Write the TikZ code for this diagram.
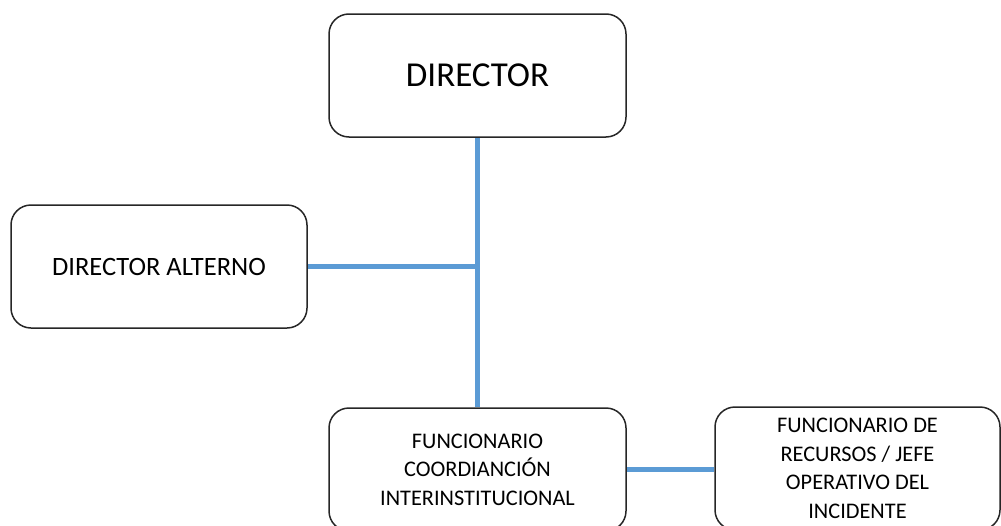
\documentclass[tikz,border=0pt]{standalone}
\usepackage{fontspec}
\setmainfont{Carlito}
\definecolor{linkblue}{RGB}{91,155,213}
\tikzset{
  box/.style={draw=black!85, line width=1.5pt, rounded corners=20pt, fill=white, align=center, inner sep=0pt},
  link/.style={draw=linkblue, line width=5pt},
}
\begin{document}
\begin{tikzpicture}[x=1pt, y=-1pt]
\useasboundingbox (0,0) rectangle (1001,525);
\clip (0,0) rectangle (1001,525);
\node[box, minimum width=297pt, minimum height=123pt, font=\fontsize{35}{40}\selectfont] (dir) at (477.5,75.5) {DIRECTOR};
\node[box, minimum width=296pt, minimum height=123pt, font=\fontsize{26.5}{32}\selectfont] (alt) at (159,266.5) {DIRECTOR ALTERNO};
\node[box, minimum width=297pt, minimum height=123pt, font=\fontsize{22.3}{28.5}\selectfont] (func) at (477.5,469.5) {FUNCIONARIO\\COORDIANCIÓN\\INTERINSTITUCIONAL};
\node[box, minimum width=285pt, minimum height=123pt, font=\fontsize{22.3}{28.5}\selectfont] (rec) at (857.5,468.5) {FUNCIONARIO DE\\RECURSOS / JEFE\\OPERATIVO DEL\\INCIDENTE};
\coordinate (j) at (dir.south |- alt.east);
\draw[link] (dir.south) -- (func.north);
\draw[link] (alt.east) -- (j);
\draw[link] (func.east) -- (func.east -| rec.west);
\end{tikzpicture}
\end{document}
